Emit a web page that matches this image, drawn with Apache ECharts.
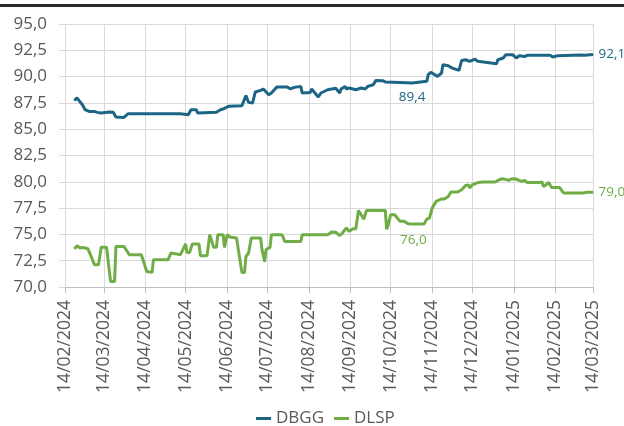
<!DOCTYPE html>
<html>
<head>
<meta charset="utf-8">
<script src="https://cdn.jsdelivr.net/npm/echarts@6/dist/echarts.min.js"></script>
<style>html,body{margin:0;padding:0;background:#fff}#c{width:624px;height:426px}</style>
</head>
<body>
<div id="c"></div>
<script>
var tickLabels = ['14/02/2024','14/03/2024','14/04/2024','14/05/2024','14/06/2024','14/07/2024','14/08/2024','14/09/2024','14/10/2024','14/11/2024','14/12/2024','14/01/2025','14/02/2025','14/03/2025'];
var yTicks = [70, 72.5, 75, 77.5, 80, 82.5, 85, 87.5, 90, 92.5, 95];
var seriesNames = ['DBGG', 'DLSP'];

var dbggDates = ['2024-02-21','2024-02-23','2024-02-25','2024-02-27','2024-02-29','2024-03-03','2024-03-07','2024-03-09','2024-03-12','2024-03-18','2024-03-21','2024-03-23','2024-03-29','2024-04-01','2024-05-10','2024-05-11','2024-05-16','2024-05-18','2024-05-22','2024-05-23','2024-06-06','2024-06-09','2024-06-11','2024-06-15','2024-06-25','2024-06-28','2024-06-30','2024-07-03','2024-07-05','2024-07-09','2024-07-11','2024-07-15','2024-07-17','2024-07-21','2024-07-29','2024-07-31','2024-08-04','2024-08-08','2024-08-09','2024-08-15','2024-08-16','2024-08-21','2024-08-23','2024-08-28','2024-08-31','2024-09-03','2024-09-06','2024-09-07','2024-09-10','2024-09-11','2024-09-13','2024-09-18','2024-09-22','2024-09-25','2024-09-27','2024-10-01','2024-10-03','2024-10-08','2024-10-10','2024-10-21','2024-10-30','2024-11-10','2024-11-11','2024-11-13','2024-11-16','2024-11-18','2024-11-21','2024-11-22','2024-11-26','2024-11-29','2024-12-04','2024-12-06','2024-12-09','2024-12-12','2024-12-16','2024-12-18','2024-12-28','2025-01-01','2025-01-02','2025-01-06','2025-01-08','2025-01-13','2025-01-16','2025-01-18','2025-01-22','2025-01-23','2025-01-24','2025-02-10','2025-02-12','2025-02-16','2025-03-04','2025-03-08','2025-03-14'];
var dbggValues = [87.74,87.97,87.64,87.33,86.85,86.69,86.69,86.6,86.54,86.63,86.6,86.16,86.12,86.47,86.47,86.38,86.38,86.85,86.85,86.54,86.6,86.85,86.92,87.17,87.23,88.2,87.55,87.49,88.54,88.69,88.82,88.28,88.44,89.0,89.0,88.85,89.0,89.05,88.44,88.5,88.82,88.06,88.44,88.75,88.82,88.9,88.44,88.82,89.07,88.8,88.92,88.75,88.92,88.82,89.07,89.23,89.64,89.61,89.49,89.45,89.4,89.55,90.18,90.4,90.18,90.02,90.34,91.13,91.03,90.81,90.59,91.54,91.6,91.45,91.67,91.45,91.29,91.22,91.6,91.77,92.08,92.08,91.77,91.99,91.92,91.8,92.02,92.02,91.86,91.99,92.05,92.02,92.1];

var dlspDates = ['2024-02-21','2024-02-23','2024-02-25','2024-02-27','2024-02-29','2024-03-02','2024-03-05','2024-03-07','2024-03-10','2024-03-12','2024-03-16','2024-03-19','2024-03-22','2024-03-23','2024-03-29','2024-04-02','2024-04-11','2024-04-15','2024-04-19','2024-04-20','2024-05-01','2024-05-03','2024-05-06','2024-05-10','2024-05-12','2024-05-14','2024-05-15','2024-05-17','2024-05-19','2024-05-24','2024-05-25','2024-05-30','2024-06-01','2024-06-04','2024-06-06','2024-06-07','2024-06-11','2024-06-12','2024-06-14','2024-06-16','2024-06-21','2024-06-25','2024-06-27','2024-06-28','2024-06-30','2024-07-02','2024-07-09','2024-07-10','2024-07-12','2024-07-13','2024-07-16','2024-07-17','2024-07-25','2024-07-27','2024-08-08','2024-08-09','2024-08-28','2024-08-31','2024-09-03','2024-09-06','2024-09-08','2024-09-11','2024-09-13','2024-09-16','2024-09-18','2024-09-20','2024-09-24','2024-09-26','2024-10-10','2024-10-11','2024-10-12','2024-10-14','2024-10-17','2024-10-21','2024-10-24','2024-10-27','2024-10-31','2024-11-08','2024-11-10','2024-11-12','2024-11-14','2024-11-17','2024-11-21','2024-11-23','2024-11-26','2024-11-28','2024-12-03','2024-12-06','2024-12-09','2024-12-11','2024-12-12','2024-12-14','2024-12-17','2024-12-21','2024-12-31','2025-01-02','2025-01-05','2025-01-07','2025-01-10','2025-01-12','2025-01-15','2025-01-16','2025-01-18','2025-01-20','2025-01-22','2025-01-24','2025-02-02','2025-02-04','2025-02-05','2025-02-07','2025-02-09','2025-02-11','2025-02-17','2025-02-20','2025-03-07','2025-03-09','2025-03-14'];
var dlspValues = [73.64,73.93,73.71,73.75,73.7,73.64,72.76,72.12,72.12,73.77,73.77,70.53,70.53,73.86,73.86,73.07,73.07,71.48,71.39,72.6,72.6,73.23,73.17,73.07,73.55,74.09,73.29,73.29,74.09,74.09,72.98,72.98,74.97,73.77,73.77,74.97,74.97,73.77,74.97,74.75,74.66,71.39,71.39,72.9,73.23,74.66,74.66,73.55,72.4,73.55,73.77,74.97,74.97,74.33,74.33,74.97,74.97,75.23,75.2,74.9,75.13,75.61,75.29,75.54,75.54,77.28,76.45,77.28,77.28,75.51,75.8,76.87,76.87,76.24,76.24,76.02,76.0,76.0,76.46,76.56,77.51,78.14,78.37,78.37,78.61,79.03,79.03,79.25,79.66,79.7,79.41,79.72,79.88,79.98,79.98,80.13,80.29,80.25,80.13,80.27,80.29,80.1,80.13,80.04,80.13,79.94,79.94,79.98,79.56,79.72,79.94,79.47,79.47,78.94,78.94,79.0,79.0];

var dbggLabelDates = ['2024-10-30', '2025-03-14'];
var dlspLabelDates = ['2024-10-31', '2025-03-14'];

var DAY = 86400000;
function parseIso(s) { var p = s.split('-'); return Date.UTC(+p[0], +p[1] - 1, +p[2]) / DAY; }
function parseDmy(s) { var p = s.split('/'); return Date.UTC(+p[2], +p[1] - 1, +p[0]) / DAY; }
function fmtNum(v) { return v.toFixed(1).replace('.', ','); }
function pad(n) { return (n < 10 ? '0' : '') + n; }
function fmtDate(t) { var d = new Date(Math.round(t) * DAY); return pad(d.getUTCDate()) + '/' + pad(d.getUTCMonth() + 1) + '/' + d.getUTCFullYear(); }

var tickValues = tickLabels.map(parseDmy);

function build(dates, values, labelDates, midDistance) {
  return dates.map(function (d, i) {
    var item = { value: [parseIso(d), values[i]] };
    var li = labelDates.indexOf(d);
    if (li >= 0) {
      var last = li === labelDates.length - 1;
      item.label = { show: true, position: last ? 'right' : 'bottom', distance: last ? 5 : midDistance };
    }
    return item;
  });
}

var FONT = 'Open Sans';
var chart = echarts.init(document.getElementById('c'), null, { renderer: 'canvas' });
chart.setOption({
  animation: false,
  backgroundColor: '#ffffff',
  graphic: [{ type: 'rect', shape: { x: 0, y: 4, width: 624, height: 3 }, style: { fill: '#2b2b2b' } }],
  grid: { left: 65, right: 31, top: 24, bottom: 139, containLabel: false },
  legend: {
    data: seriesNames, top: 405, left: 251, icon: 'rect', itemWidth: 15, itemHeight: 3, itemGap: 10,
    textStyle: { fontFamily: FONT, fontSize: 17, color: '#595959' }
  },
  xAxis: {
    type: 'value',
    min: tickValues[0], max: tickValues[tickValues.length - 1],
    axisLine: { show: true, onZero: false, lineStyle: { color: '#bfbfbf', width: 1 } },
    axisTick: { show: true, length: 6, customValues: tickValues, lineStyle: { color: '#bfbfbf' } },
    splitLine: { show: true, lineStyle: { color: '#d9d9d9', width: 1 } },
    axisLabel: {
      customValues: tickValues, rotate: 90, margin: 13, fontFamily: FONT, fontSize: 17.5, color: '#595959',
      formatter: function (v) { return fmtDate(v); }, hideOverlap: false
    }
  },
  yAxis: {
    type: 'value', min: yTicks[0], max: yTicks[yTicks.length - 1], interval: 2.5,
    axisLine: { show: true, lineStyle: { color: '#d9d9d9' } },
    axisTick: { show: true, length: 6, lineStyle: { color: '#d9d9d9' } },
    splitLine: { show: true, lineStyle: { color: '#d9d9d9', width: 1 } },
    axisLabel: { margin: 18, fontFamily: FONT, fontSize: 17, color: '#595959', formatter: function (v) { return fmtNum(v); } }
  },
  series: [
    {
      name: seriesNames[0], type: 'line', showSymbol: true, symbol: 'circle', symbolSize: 1, color: '#1d6584',
      lineStyle: { width: 3, color: '#1d6584' },
      label: { color: '#1d6584', fontFamily: FONT, fontSize: 13.5, formatter: function (p) { return fmtNum(p.value[1]); } },
      data: build(dbggDates, dbggValues, dbggLabelDates, 7)
    },
    {
      name: seriesNames[1], type: 'line', showSymbol: true, symbol: 'circle', symbolSize: 1, color: '#70ad47',
      lineStyle: { width: 3, color: '#70ad47' },
      label: { color: '#70ad47', fontFamily: FONT, fontSize: 13.5, formatter: function (p) { return fmtNum(p.value[1]); } },
      data: build(dlspDates, dlspValues, dlspLabelDates, 9)
    }
  ]
});
</script>
</body>
</html>
